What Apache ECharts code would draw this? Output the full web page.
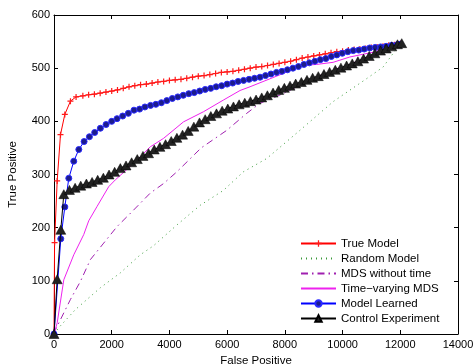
<!DOCTYPE html>
<html>
<head>
<meta charset="utf-8">
<script src="https://cdn.jsdelivr.net/npm/echarts@6/dist/echarts.min.js"></script>
<style>
html,body{margin:0;padding:0;background:#fff;}
#c{width:476px;height:364px;}
</style>
</head>
<body>
<div id="c"></div>
<script>
// ---- data ----
const seriesNames = ['True Model','Random Model','MDS without time','Time\u2212varying MDS','Model Learned','Control Experiment'];
const xTicks = [0,2000,4000,6000,8000,10000,12000,14000];
const yTicks = [0,100,200,300,400,500,600];

const trueModel = [[0,0],[20,172],[110,288],[225,375],[375,413],[570,438],[765,446],[1000,448],[1200,450],[1400,451],[1600,453],[1800,455],[2000,457],[2200,459],[2400,462],[2600,465],[2800,467],[3000,469],[3200,470],[3400,472],[3600,474],[3800,475],[4000,477],[4200,478],[4400,479],[4600,481],[4800,483],[5000,485],[5200,486],[5400,488],[5600,490],[5800,492],[6000,493],[6200,494],[6400,496],[6600,498],[6800,500],[7000,502],[7200,503],[7400,505],[7600,507],[7800,509],[8000,511],[8200,513],[8400,516],[8600,519],[8800,521],[9000,523],[9200,525],[9400,527],[9600,529],[9800,531],[10000,532],[10200,534],[10400,535],[10600,536],[10800,537],[11000,539],[11200,540],[11400,541],[11600,543],[11800,544],[12000,546]];

const randomModel = [[0,0],[166,12],[743,46],[1607,87],[2299,115],[2990,149],[3450,166],[4257,205],[5063,242],[5869,270],[6562,305],[7369,330],[8520,383],[9672,437],[10826,480],[11402,502],[12000,546]];

const mdsNoTime = [[0,0],[50,8],[570,65],[916,99],[1262,140],[1723,171],[2184,202],[2702,230],[3335,265],[3797,283],[4257,305],[5100,350],[5985,383],[6677,415],[7139,434],[7944,452],[8600,470],[9443,492],[10250,508],[11100,524],[12000,546]];

const timeVaryingMds = [[0,0],[110,21],[340,102],[685,149],[1030,187],[1204,213],[1493,240],[1895,277],[2126,290],[2760,321],[3335,352],[3797,368],[4487,399],[5178,418],[5869,440],[6447,458],[6792,465],[7483,480],[7944,490],[8520,505],[9100,507],[9672,511],[10250,521],[11054,530],[11863,543],[12000,546]];

const modelLearned = [[0,0],[235,179],[375,239],[513,293],[685,325],[860,347],[1043,362],[1227,371],[1410,379],[1607,387],[1804,394],[2000,400],[2184,405],[2380,410],[2575,415],[2772,421],[2966,423],[3150,427],[3346,430],[3530,432],[3720,435],[3910,439],[4100,443],[4290,446],[4480,449],[4670,452],[4860,454],[5050,457],[5240,460],[5430,462],[5620,465],[5810,467],[6000,470],[6190,472],[6380,475],[6570,477],[6760,479],[6950,481],[7140,483],[7330,486],[7520,489],[7710,492],[7900,494],[8090,497],[8280,500],[8470,503],[8660,507],[8850,510],[9040,513],[9230,516],[9420,518],[9610,522],[9800,525],[9990,528],[10180,531],[10370,533],[10560,534],[10750,536],[10940,538],[11130,539],[11320,540],[11510,541],[11700,543],[11890,544],[12000,545]];

const controlExperiment = [[0,0],[110,103],[235,196],[340,263],[536,271],[732,275],[927,279],[1123,283],[1320,286],[1514,290],[1711,294],[1908,300],[2102,305],[2299,312],[2496,317],[2690,323],[2886,329],[3083,335],[3277,340],[3474,347],[3671,352],[3867,357],[4063,363],[4259,369],[4455,375],[4651,382],[4847,390],[5043,398],[5239,404],[5435,410],[5631,415],[5827,420],[6023,424],[6219,428],[6415,432],[6611,435],[6807,438],[7003,441],[7199,445],[7395,449],[7591,454],[7787,459],[7983,463],[8179,467],[8375,471],[8571,474],[8767,478],[8963,482],[9159,485],[9355,489],[9551,493],[9747,497],[9943,501],[10139,505],[10335,509],[10531,513],[10727,518],[10923,523],[11119,528],[11315,533],[11511,537],[11707,541],[11903,545],[12050,547]];

// ---- chart ----
const FONT = 'Liberation Sans, Arial, Helvetica, sans-serif';
const chart = echarts.init(document.getElementById('c'), null, {renderer:'canvas'});
const plusPath = 'path://M4,0H6V4H10V6H6V10H4V6H0V4H4Z';

const tickAxisCommon = {
  type:'value', min:0, splitLine:{show:false},
  axisLine:{show:true, onZero:false, lineStyle:{color:'#000', width:1}},
  axisTick:{show:true, inside:true, length:4, lineStyle:{color:'#000'}},
};

const hiddenSym = {opacity:0};

chart.setOption({
  animation:false,
  backgroundColor:'#fff',
  grid:{left:54, right:18, top:15, bottom:30, containLabel:false, outerBoundsMode:'none'},
  legend:{
    orient:'vertical', left:295, top:232.5,
    itemWidth:35, itemHeight:8, itemGap:3,
    textStyle:{fontFamily:FONT, fontSize:11.5, color:'#000', lineHeight:12},
    data:[
      {name:seriesNames[0]},
      {name:seriesNames[1], itemStyle:hiddenSym},
      {name:seriesNames[2], itemStyle:hiddenSym},
      {name:seriesNames[3], itemStyle:hiddenSym},
      {name:seriesNames[4]},
      {name:seriesNames[5]}
    ]
  },
  xAxis:[
    Object.assign({}, tickAxisCommon, {
      position:'bottom', max:14000, interval:2000,
      name:'False Positive', nameLocation:'middle', nameGap:18,
      nameTextStyle:{fontFamily:FONT, fontSize:11.5, color:'#000'},
      axisLabel:{fontFamily:FONT, fontSize:11, color:'#000', margin:5,
        formatter:v=>xTicks.includes(v)?String(v):''}
    }),
    Object.assign({}, tickAxisCommon, {
      position:'top', max:14000, interval:2000, axisLabel:{show:false}
    })
  ],
  yAxis:[
    Object.assign({}, tickAxisCommon, {
      position:'left', max:600, interval:100,
      name:'True Positive', nameLocation:'middle', nameGap:35,
      nameTextStyle:{fontFamily:FONT, fontSize:11.5, color:'#000'},
      axisLabel:{fontFamily:FONT, fontSize:11, color:'#000', margin:4,
        formatter:v=>yTicks.includes(v)?String(v):''}
    }),
    Object.assign({}, tickAxisCommon, {
      position:'right', max:600, interval:100, axisLabel:{show:false}
    })
  ],
  series:[
    {name:seriesNames[0], type:'line', data:trueModel, symbol:plusPath, symbolSize:6,
     itemStyle:{color:'#ff1a1a'}, lineStyle:{color:'#ff0000', width:1}, z:3},
    {name:seriesNames[1], type:'line', data:randomModel, showSymbol:false, symbol:'none',
     itemStyle:{color:'#3a9a3a'}, lineStyle:{color:'#3a9a3a', width:1, type:[1,4]}, z:2},
    {name:seriesNames[2], type:'line', data:mdsNoTime, showSymbol:false, symbol:'none',
     itemStyle:{color:'#a020b0'}, lineStyle:{color:'#a020b0', width:1, type:[7,4,1.5,4]}, z:2},
    {name:seriesNames[3], type:'line', data:timeVaryingMds, showSymbol:false, symbol:'none',
     itemStyle:{color:'#ee22ee'}, lineStyle:{color:'#ee22ee', width:1}, z:2},
    {name:seriesNames[4], type:'line', data:modelLearned, symbol:'circle', symbolSize:6,
     itemStyle:{color:'#1c1c8c', borderColor:'#2a2aff', borderWidth:1}, lineStyle:{color:'#0000ff', width:1}, z:4},
    {name:seriesNames[5], type:'line', data:controlExperiment, symbol:'triangle', symbolSize:[10,9],
     itemStyle:{color:'#222', borderColor:'#000', borderWidth:0.5}, lineStyle:{color:'#000', width:1}, z:5}
  ]
});
</script>
</body>
</html>
